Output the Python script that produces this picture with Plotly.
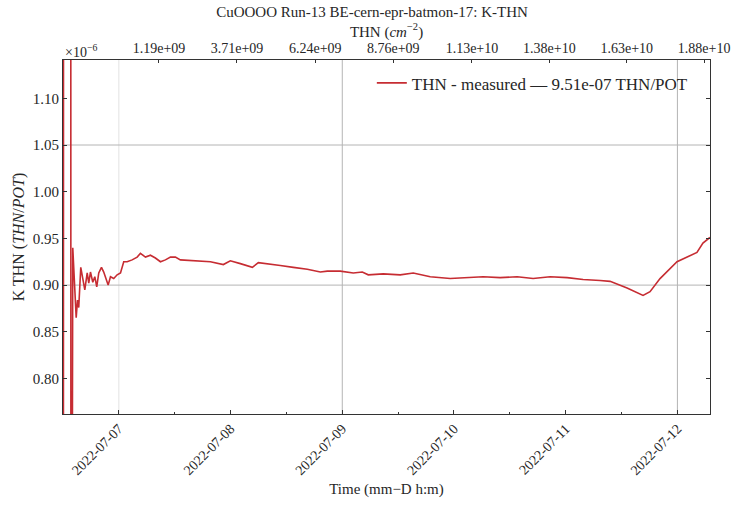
import plotly.graph_objects as go

# K-THN ratio (units of 1e-6 THN/POT) versus time
times = [
    "2022-07-06 12:04", "2022-07-06 12:10", "2022-07-06 13:37", "2022-07-06 13:43",
    "2022-07-06 14:06", "2022-07-06 14:32", "2022-07-06 14:50", "2022-07-06 15:07",
    "2022-07-06 15:23", "2022-07-06 15:49", "2022-07-06 16:15", "2022-07-06 16:41",
    "2022-07-06 17:12", "2022-07-06 17:32", "2022-07-06 17:54", "2022-07-06 18:24",
    "2022-07-06 18:50", "2022-07-06 19:15", "2022-07-06 19:41", "2022-07-06 20:16",
    "2022-07-06 20:45", "2022-07-06 21:07", "2022-07-06 21:42", "2022-07-06 22:12",
    "2022-07-06 22:54", "2022-07-06 23:38", "2022-07-07 00:21", "2022-07-07 01:03",
    "2022-07-07 01:47", "2022-07-07 02:51", "2022-07-07 03:56", "2022-07-07 04:38",
    "2022-07-07 05:43", "2022-07-07 06:47", "2022-07-07 07:51", "2022-07-07 08:56",
    "2022-07-07 10:00", "2022-07-07 11:05", "2022-07-07 12:09", "2022-07-07 13:13",
    "2022-07-07 16:01", "2022-07-07 19:40", "2022-07-07 22:27", "2022-07-07 23:57",
    "2022-07-08 02:06", "2022-07-08 04:41", "2022-07-08 05:58", "2022-07-08 07:54",
    "2022-07-08 10:41", "2022-07-08 13:29", "2022-07-08 16:29", "2022-07-08 19:17",
    "2022-07-08 20:47", "2022-07-08 23:34", "2022-07-09 02:22", "2022-07-09 04:18",
    "2022-07-09 05:35", "2022-07-09 08:48", "2022-07-09 12:27", "2022-07-09 15:15",
    "2022-07-09 18:54", "2022-07-09 23:11", "2022-07-10 02:50", "2022-07-10 06:16",
    "2022-07-10 09:55", "2022-07-10 13:34", "2022-07-10 17:00", "2022-07-10 20:39",
    "2022-07-11 00:18", "2022-07-11 03:44", "2022-07-11 07:23", "2022-07-11 09:32",
    "2022-07-11 13:11", "2022-07-11 16:37", "2022-07-11 18:07", "2022-07-11 20:16",
    "2022-07-11 23:55", "2022-07-12 02:03", "2022-07-12 04:12", "2022-07-12 05:29",
    "2022-07-12 06:59",
]
k_thn = [
    0.0, 3.0, 3.0, 0.0,
    0.940, 0.898, 0.865, 0.884,
    0.876, 0.919, 0.907, 0.895,
    0.913, 0.902, 0.914, 0.903,
    0.909, 0.898, 0.913, 0.919,
    0.914, 0.909, 0.900, 0.909,
    0.907, 0.911, 0.913, 0.925,
    0.925, 0.927, 0.930, 0.934,
    0.930, 0.932, 0.929, 0.925,
    0.927, 0.930, 0.930, 0.927,
    0.926, 0.925, 0.922, 0.926,
    0.923, 0.919, 0.924, 0.923,
    0.921, 0.919, 0.917, 0.914,
    0.915, 0.915, 0.913, 0.914,
    0.911, 0.912, 0.911, 0.913,
    0.909, 0.907, 0.908, 0.909,
    0.908, 0.909, 0.907, 0.909,
    0.908, 0.906, 0.905, 0.904,
    0.897, 0.889, 0.893, 0.907,
    0.925, 0.930, 0.935, 0.945,
    0.951,
]

# Secondary (top) axis: cumulative fluence ticks
fluence_ticks = [1.19e9, 3.71e9, 6.24e9, 8.76e9, 1.13e10, 1.38e10, 1.63e10, 1.88e10]
fluence_labels = ["1.19e+09", "3.71e+09", "6.24e+09", "8.76e+09",
                  "1.13e+10", "1.38e+10", "1.63e+10", "1.88e+10"]
fluence_range = [-1.91e9, 1.899e10]

y_ticks = [0.80, 0.85, 0.90, 0.95, 1.00, 1.05, 1.10]
y_grid = [0.90, 1.05]
x_grid_light = ["2022-07-07"]
x_grid_dark = ["2022-07-09", "2022-07-12"]

FONT = "Liberation Serif"
TXT = "#262626"
RED = "#c62c32"

fig = go.Figure()
fig.add_trace(go.Scatter(
    x=times, y=k_thn, mode="lines",
    line=dict(color=RED, width=1.6),
    name="THN - measured \u2014 9.51e-07 THN/POT",
    xaxis="x", yaxis="y",
))
# invisible helper trace so the top axis is drawn
fig.add_trace(go.Scatter(
    x=fluence_ticks, y=[None] * len(fluence_ticks), mode="markers",
    xaxis="x2", yaxis="y", showlegend=False, hoverinfo="skip",
))

# vertical gridlines
for d in x_grid_light:
    fig.add_shape(type="line", xref="x", yref="paper", x0=d, x1=d, y0=0, y1=1,
                  line=dict(color="#e2e2e2", width=1), layer="below")
for d in x_grid_dark:
    fig.add_shape(type="line", xref="x", yref="paper", x0=d, x1=d, y0=0, y1=1,
                  line=dict(color="#b4b4b4", width=1), layer="below")
# horizontal gridlines
for v in y_grid:
    fig.add_shape(type="line", xref="paper", yref="y", x0=0, x1=1, y0=v, y1=v,
                  line=dict(color="#b4b4b4", width=1), layer="below")

fig.update_layout(
    width=744, height=506,
    margin=dict(l=63, r=34, t=60, b=92),
    paper_bgcolor="white", plot_bgcolor="white",
    font=dict(family=FONT, color=TXT, size=14),
    title=dict(text="CuOOOO Run-13 BE-cern-epr-batmon-17: K-THN",
               x=0.5, xanchor="center", y=0.988, yanchor="top",
               font=dict(size=15, family=FONT, color=TXT)),
    showlegend=True,
    legend=dict(x=0.975, xanchor="right", y=0.985, yanchor="top",
                bgcolor="rgba(255,255,255,0)", borderwidth=0,
                font=dict(size=17, family=FONT, color=TXT)),
    xaxis=dict(
        type="date",
        range=["2022-07-06 12:00", "2022-07-12 07:00"],
        tick0="2022-07-07", dtick=86400000, tickformat="%Y-%m-%d",
        tickangle=-45, tickfont=dict(size=14),
        showgrid=False, zeroline=False,
        showline=True, linecolor="#333", linewidth=1,
        ticks="inside", ticklen=4, tickcolor="#333",
        minor=dict(dtick=43200000, ticks="inside", ticklen=2, tickcolor="#333"),
        title=dict(text="Time (mm\u2212D h:m)", font=dict(size=15), standoff=6),
    ),
    xaxis2=dict(
        overlaying="x", side="top", anchor="y",
        range=fluence_range,
        tickvals=fluence_ticks, ticktext=fluence_labels,
        tickfont=dict(size=14),
        showgrid=False, zeroline=False,
        showline=True, linecolor="#333", linewidth=1,
        ticks="inside", ticklen=3, tickcolor="#333",
        title=dict(text="THN (<i>cm</i><sup>\u22122</sup>)", font=dict(size=15), standoff=0),
    ),
    yaxis=dict(
        range=[0.762, 1.141],
        tickvals=y_ticks, ticktext=[f"{v:.2f}" for v in y_ticks],
        tickfont=dict(size=15),
        showgrid=False, zeroline=False,
        showline=True, linecolor="#333", linewidth=1, mirror="ticks",
        ticks="inside", ticklen=4, tickcolor="#333",
        title=dict(text="K THN (<i>THN</i>/<i>POT</i>)", font=dict(size=16), standoff=4),
    ),
)

fig.add_annotation(
    xref="paper", yref="paper", x=0, y=1, xanchor="left", yanchor="bottom",
    text="\u00d710<sup>\u22126</sup>", showarrow=False,
    font=dict(size=14, family=FONT, color=TXT), yshift=-2,
)

fig.write_html("out.html")
